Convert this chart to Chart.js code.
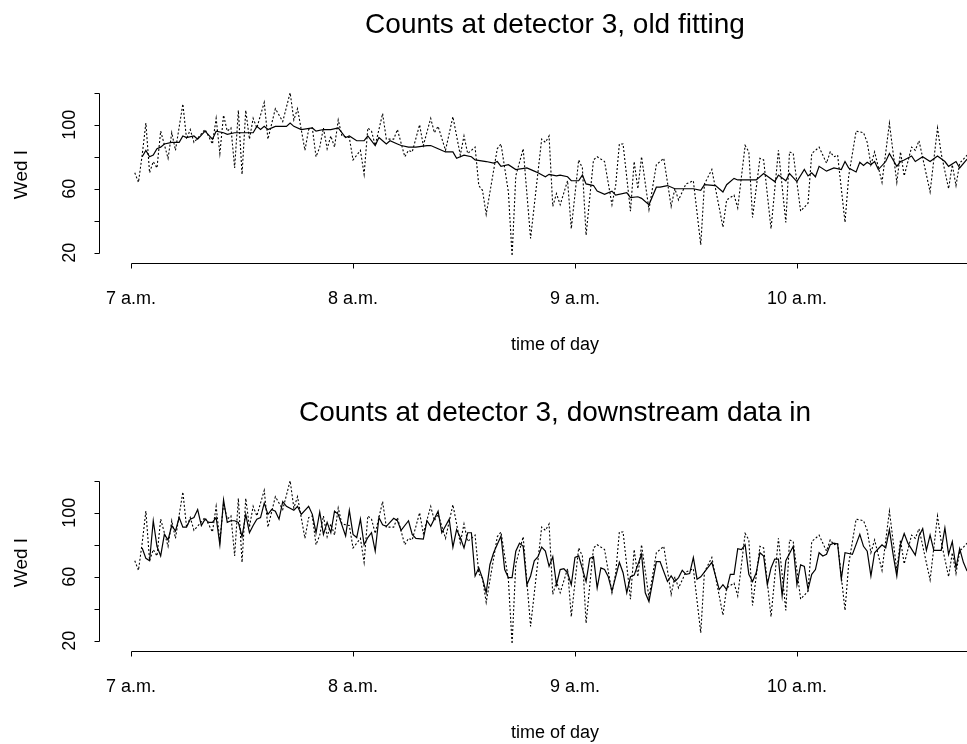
<!DOCTYPE html>
<html>
<head>
<meta charset="utf-8">
<title>Counts at detector 3</title>
<script src="https://cdn.jsdelivr.net/npm/chart.js@4.4.1/dist/chart.umd.min.js"></script>
<style>
  html, body { margin: 0; padding: 0; background: #fff; overflow: hidden; }
  .panel { position: absolute; left: 0; width: 1110px; height: 388px; }
</style>
</head>
<body>
<div class="panel" style="top:0"><canvas id="oldFit" width="1110" height="388"></canvas></div>
<div class="panel" style="top:388px"><canvas id="downFit" width="1110" height="388"></canvas></div>
<script>
// minutes after 7 a.m. and counts per minute at detector 3
const obsMin = [1,2,3,4,5,6,7,8,10,11,12,14,15,16,17,20,22,23,24,25,26,27,28,29,30,31,32,33,34,36,37,39,41,43,44,45,47,48,49,50,51,52,53,54,55,56,57,59,60,62,63,64,65,66,68,69,71,72,74,75,76,78,79,81,82,83,85,87,89,90,91,93,94,95,96,99,100,102,103,104,106,108,111,112,113,114,115,116,118,119,121,122,123,125,126,128,130,131,132,133,135,136,137,138,140,142,144,146,147,148,150,152,154,155,157,158,160,161,163,164,166,167,168,170,171,173,175,177,178,179,181,183,184,186,188,189,190,191,193,194,196,198,199,200,201,203,205,207,208,209,211,212,213,216,218,219,221,222,223,224,226];
const obsCount = [70,64,81,101,70,77,73,96,79,95,84,113,91,97,89,97,88,104,82,106,96,98,73,109,69,109,91,104,98,114,91,110,102,120,103,110,84,97,98,80,86,98,85,93,86,103,93,92,78,84,69,98,96,87,107,91,91,97,80,84,83,100,87,104,95,99,84,105,81,93,82,86,62,59,44,85,88,58,18,68,85,29,91,89,93,49,57,50,65,35,78,73,31,78,80,77,50,62,88,88,46,77,60,80,47,75,79,49,60,53,63,65,25,63,72,60,36,53,56,48,87,83,42,79,78,35,84,39,83,82,46,51,82,86,76,83,80,81,39,68,96,95,89,75,83,64,101,64,83,68,86,84,90,58,98,82,60,75,62,76,81];

// old fitting
const oldMin = [3,4,5,6,7,8,9,11,13,14,15,17,18,20,22,23,25,26,28,33,34,35,36,37,39,42,43,44,46,49,50,52,54,56,58,59,61,63,64,66,67,69,70,72,73,75,77,80,81,83,85,87,88,90,92,93,96,98,99,100,102,104,107,109,110,112,113,115,116,118,119,121,122,123,125,126,128,130,131,134,135,137,138,140,142,143,145,147,150,152,154,155,158,160,161,163,164,166,167,169,171,174,175,177,178,180,182,183,184,185,186,188,190,192,193,194,196,197,198,199,200,201,202,204,205,207,208,209,211,212,214,216,218,220,221,223,224,226];
const oldCount = [80,84,80,81,85,86,88,89,89,93,92,93,91,96,91,96,95,94,95,95,99,97,99,97,99,99,101,99,97,98,96,97,97,98,92,93,90,90,93,87,92,88,90,88,87,86,86,87,87,85,83,83,79,81,80,78,77,76,77,74,75,72,73,71,70,67.5,69,68,68.5,67.5,65,65,68.5,63,62,58.5,56.5,58.5,56,57.5,54.5,55,54,50,61,61,62,60,60,60,59,62.5,62,58,62.5,66.5,65.5,65.5,65.5,65.5,69.5,64.5,68.5,65,69.5,64.5,72,68,70,67.5,74,71,73,72,77,73,70.5,76.5,74.5,76.5,75,77,72,77,82,74,77,78,80.5,77,80,77,80.5,77,74,77,73,78.5];

// downstream data in
const downMin = [3,4,5,6,7,8,9,10,11,12,13,14,15,16,17,18,19,20,21,22,23,24,25,26,27,28,29,30,31,32,33,34,35,36,37,38,39,40,41,42,44,45,46,48,49,50,51,52,53,54,55,56,58,59,60,61,62,63,64,65,66,67,68,69,71,72,73,75,76,77,79,80,81,83,84,86,87,88,89,90,91,92,93,94,95,96,97,98,100,101,102,103,104,105,106,107,108,109,110,111,112,113,114,115,116,117,118,119,120,121,123,124,125,126,127,128,129,130,132,133,134,135,136,138,139,140,142,143,145,146,147,148,149,150,151,152,153,154,157,159,160,161,162,163,164,165,166,167,168,169,170,171,172,173,174,175,176,177,179,180,181,182,183,184,185,186,187,188,189,190,191,192,193,194,195,197,198,199,200,201,202,203,204,205,206,207,208,209,210,212,213,214,215,216,217,219,220,221,222,223,224,225,226];
const downCount = [78,71.5,70,95,79,73,86.5,83,92,88.5,97,91,91,96,97,102,92,96,94,94,97,80,108,94,95,95,94,85,99,87.5,92,96,97,106,99,102,101,96,107,104,101.5,104,99,104,99,87.5,100.5,86.5,94,87.5,101,99,85.5,101.5,86.5,84.5,96,80,84.5,87.5,76,97,92.5,91.5,96.5,95,89,95,86.5,84,83.5,95,91.5,101,87.5,96,78.5,89.5,84.5,78,87.5,87.5,60.5,65.5,59,50,67.5,75,85.5,64.5,59.5,59.5,76,81,79,55,60.5,70,72.5,78.5,76,66.5,72.5,55,64.5,65,62.5,55,72,73,57,71.5,72.5,53,65.5,64.5,60,51,69,62.5,50,60,61,74,50,44.5,69.5,69.5,57,60.5,57,59.5,64,61.5,62,72,58.5,60,69,52,55,52,61.5,61.5,77.5,77,80,61.5,57,62.5,75,73,55,65.5,71,71,48,70,79,55,67.5,66.5,52,61.5,64.5,75,73,74,80,81,80.5,58.5,75,74.5,74,86.5,79,76,60.5,75,77.5,80,78,89.5,74,60.5,80,87,81,73.5,85.5,90,76.5,86,76.5,76.5,90.5,74,82,65.5,77.5,69,63.5];

const hourTicks = [0, 60, 120, 180, 240];
const hourLabels = ['7 a.m.', '8 a.m.', '9 a.m.', '10 a.m.', '11 a.m.'];
const countTicks = [20, 40, 60, 80, 100, 120];
const countLabels = ['20', '', '60', '', '100', ''];

const FONT = '"Liberation Sans", Arial, Helvetica, sans-serif';

function pts(xs, ys) {
    return xs.map(function(x, i) { return { x: x, y: ys[i] }; });
}

// R style axes: detached axis lines, outward ticks, rotated y labels
const rAxes = {
    id: 'rAxes',
    afterDraw: function(chart, args, opts) {
        const ctx = chart.ctx;
        const xs = chart.scales.x;
        const ys = chart.scales.y;
        const area = chart.chartArea;
        const tick = 5;
        ctx.save();
        ctx.strokeStyle = '#000';
        ctx.fillStyle = '#000';
        ctx.lineWidth = 1;

        // y axis
        const ax = area.left - 0.5;
        ctx.beginPath();
        ctx.moveTo(ax, Math.round(ys.getPixelForValue(countTicks[0])) + 0.5);
        ctx.lineTo(ax, Math.round(ys.getPixelForValue(countTicks[countTicks.length - 1])) + 0.5);
        countTicks.forEach(function(v) {
            const py = Math.round(ys.getPixelForValue(v)) + 0.5;
            ctx.moveTo(ax, py);
            ctx.lineTo(ax - tick, py);
        });
        ctx.stroke();

        ctx.font = '18px ' + FONT;
        ctx.textAlign = 'center';
        ctx.textBaseline = 'middle';
        countTicks.forEach(function(v, i) {
            if (!countLabels[i]) return;
            ctx.save();
            ctx.translate(70, ys.getPixelForValue(v));
            ctx.rotate(-Math.PI / 2);
            ctx.fillText(countLabels[i], 0, 0);
            ctx.restore();
        });

        // x axis
        const ay = area.bottom + 0.5;
        ctx.beginPath();
        ctx.moveTo(Math.round(xs.getPixelForValue(hourTicks[0])) + 0.5, ay);
        ctx.lineTo(Math.round(xs.getPixelForValue(hourTicks[hourTicks.length - 1])) + 0.5, ay);
        hourTicks.forEach(function(v) {
            const px = Math.round(xs.getPixelForValue(v)) + 0.5;
            ctx.moveTo(px, ay);
            ctx.lineTo(px, ay + tick);
        });
        ctx.stroke();
        hourTicks.forEach(function(v, i) {
            ctx.fillText(hourLabels[i], xs.getPixelForValue(v), area.bottom + 36);
        });

        // axis titles
        const midX = (area.left + area.right) / 2;
        ctx.fillText('time of day', midX, area.bottom + 82);
        ctx.save();
        ctx.translate(22, (area.top + area.bottom) / 2);
        ctx.rotate(-Math.PI / 2);
        ctx.font = '19px ' + FONT;
        ctx.fillText('Wed I', 0, 0);
        ctx.restore();

        // main title
        ctx.font = '28px ' + FONT;
        ctx.fillText(opts.title, midX, 25);
        ctx.restore();
    }
};

function makePanel(id, title, fitMin, fitCount) {
    const ctx = document.getElementById(id).getContext('2d');
    return new Chart(ctx, {
        type: 'line',
        data: {
            datasets: [{
                label: 'observed',
                data: pts(obsMin, obsCount),
                borderColor: '#000',
                borderWidth: 1.1,
                borderDash: [2, 2],
                pointRadius: 0,
                tension: 0
            }, {
                label: 'fitted',
                data: pts(fitMin, fitCount),
                borderColor: '#000',
                borderWidth: 1.2,
                pointRadius: 0,
                tension: 0
            }]
        },
        options: {
            responsive: false,
            animation: false,
            devicePixelRatio: 1,
            layout: { padding: { left: 100, right: 100, top: 86, bottom: 125 } },
            scales: {
                x: { type: 'linear', min: -8.4, max: 237.6, display: false },
                y: { min: 13.6, max: 124.2, display: false }
            },
            plugins: {
                legend: { display: false },
                tooltip: { enabled: false },
                rAxes: { title: title }
            }
        },
        plugins: [rAxes]
    });
}

makePanel('oldFit', 'Counts at detector 3, old fitting', oldMin, oldCount);
makePanel('downFit', 'Counts at detector 3, downstream data in', downMin, downCount);
</script>
</body>
</html>
